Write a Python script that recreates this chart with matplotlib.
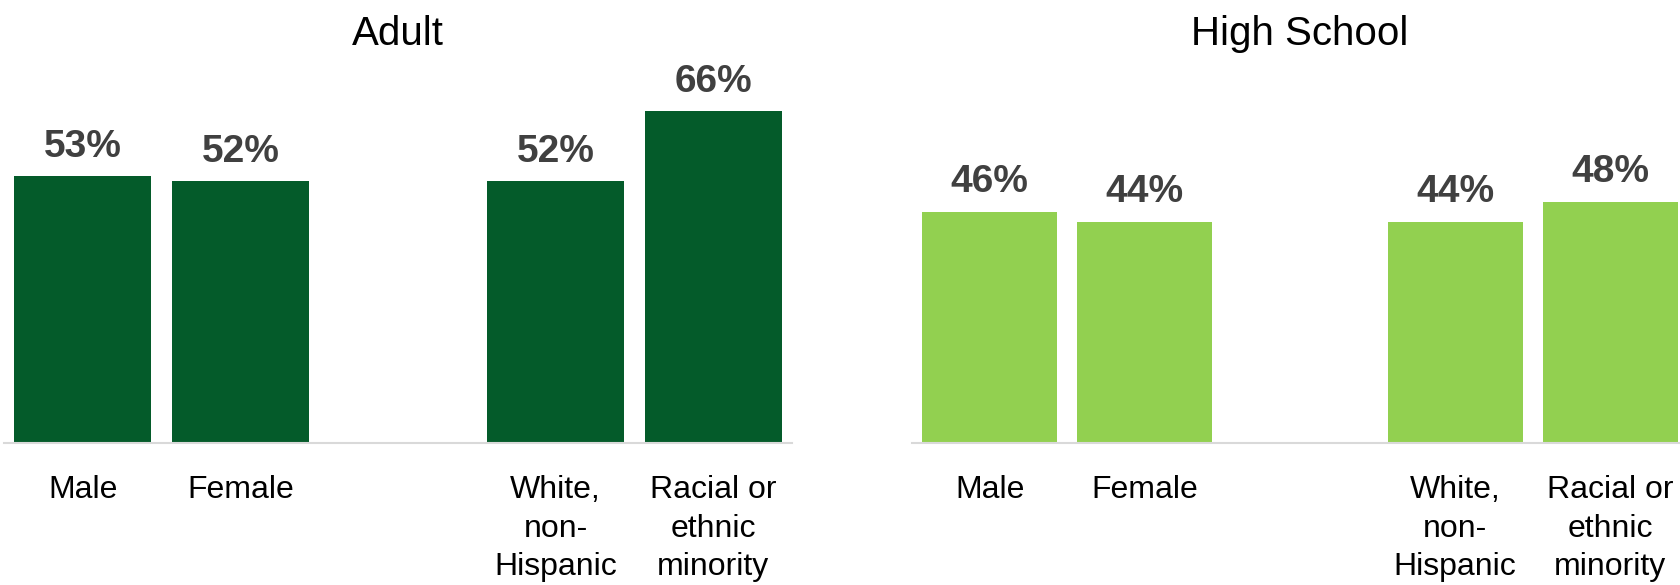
import numpy as np
import matplotlib.pyplot as plt

# groups shown in both panels (slot 2 is left empty as a spacer)
groups = ["Male", "Female", "White,\nnon-\nHispanic", "Racial or\nethnic\nminority"]
slots = [0, 1, 3, 4]
adult = [53, 52, 52, 66]
high_school = [46, 44, 44, 48]
titles = ["Adult", "High School"]
colors = ["#045B2A", "#92D050"]

plt.rcParams['font.family'] = ['Liberation Sans', 'DejaVu Sans']

fig = plt.figure(figsize=(16.8, 5.85), dpi=100)

# axes boxes in figure fractions: [left, bottom, width, height]
boxes = [[4 / 1680, 0.2427, 788 / 1680, 0.6879],
         [912 / 1680, 0.2427, 776 / 1680, 0.6879]]

for box, vals, title, col in zip(boxes, [adult, high_school], titles, colors):
    ax = fig.add_axes(box)
    bars = ax.bar(slots, vals, width=0.87, color=col)
    ax.set_xlim(-0.5, 4.5)
    ax.set_ylim(0, 80)
    for b, v in zip(bars, vals):
        ax.annotate(f"{v}%", (b.get_x() + b.get_width() / 2, v),
                    xytext=(0, 14), textcoords="offset points",
                    ha="center", va="baseline", fontsize=28,
                    fontweight="bold", color="#404040")
    ax.set_xticks(slots)
    ax.set_xticklabels(groups, fontsize=23, color="black")
    for lab in ax.get_xticklabels():
        lab.set_linespacing(1.38)
        lab.set_verticalalignment("top")
    ax.tick_params(axis="x", length=0, pad=23)
    ax.set_yticks([])
    for s in ["top", "right", "left"]:
        ax.spines[s].set_visible(False)
    ax.spines["bottom"].set_color("#D9D9D9")
    ax.spines["bottom"].set_linewidth(1.5)
    cx = box[0] + box[2] / 2
    fig.text(cx, 1 - 34 / 585, title, ha="center", va="center",
             fontsize=29, color="black")

fig.savefig("out.png", dpi=100)
